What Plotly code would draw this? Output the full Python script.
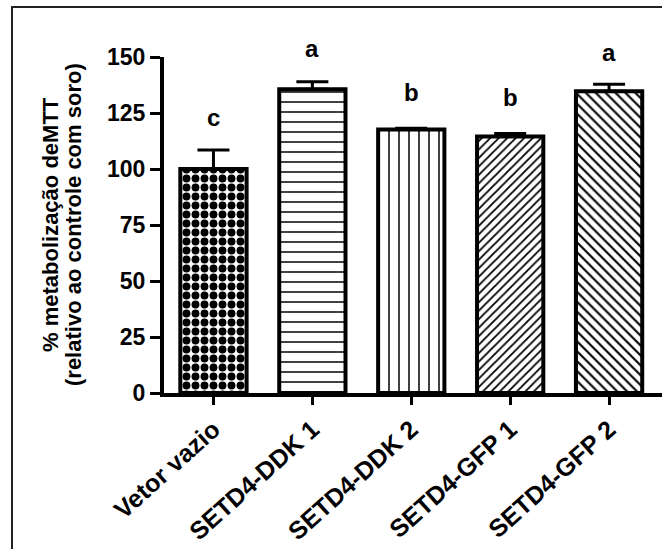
import plotly.graph_objects as go

categories = ["Vetor vazio", "SETD4-DDK 1", "SETD4-DDK 2", "SETD4-GFP 1", "SETD4-GFP 2"]
values = [100.0, 135.6, 117.6, 114.5, 134.7]
errors = [8.5, 3.3, 0.6, 1.3, 3.1]
letters = ["c", "a", "b", "b", "a"]
letter_y = [123, 154, 134, 132, 152]
y_ticks = [0, 25, 50, 75, 100, 125, 150]
y_range = [0, 150]
title_lines = ["% metabolização deMTT", "(relativo ao controle com soro)"]

patterns = [".", "-", "|", "/", "\\"]
pattern_sizes = [9, 10, 10, 6, 7]
pattern_solidity = [0.6, 0.15, 0.15, 0.3, 0.3]

FONT = "Liberation Sans, Arial, sans-serif"

fig = go.Figure()
fig.add_trace(go.Bar(
    x=list(range(len(categories))),
    y=values,
    marker=dict(
        color="white",
        line=dict(color="black", width=4),
        pattern=dict(shape=patterns, size=pattern_sizes, solidity=pattern_solidity,
                     fgcolor="black", bgcolor="white", fillmode="replace"),
    ),
    error_y=dict(type="data", array=errors, arrayminus=[0]*len(errors), symmetric=False,
                 color="black", thickness=3, width=16),
    width=0.67,
    showlegend=False,
))

# significance letters (y given in data units, converted to axis fraction so
# that letters above the axis range are still drawn)
for i, (t, yv) in enumerate(zip(letters, letter_y)):
    fig.add_annotation(x=i, xref="x", y=(yv - y_range[0]) / (y_range[1] - y_range[0]),
                       yref="y domain", text="<b>%s</b>" % t, showarrow=False,
                       font=dict(family=FONT, size=24, color="black"),
                       xanchor="center", yanchor="middle")

L, T, B = 164, 57, 156
W = 662 - L
H = 549 - T - B

def px_x(p):
    return (p - L) / W

def px_y(p):
    return (549 - B - p) / H

for xpos, line in zip([50, 73], title_lines):
    fig.add_annotation(
        x=px_x(xpos), y=0.5, xref="paper", yref="paper",
        text="<b>%s</b>" % line,
        textangle=-90, showarrow=False, xanchor="center", yanchor="middle",
        font=dict(family=FONT, size=22, color="black"),
    )

# outer frame (left and top lines)
fig.add_shape(type="line", xref="paper", yref="paper",
              x0=px_x(12), x1=px_x(12), y0=px_y(7), y1=px_y(560),
              line=dict(color="#222222", width=2))
fig.add_shape(type="line", xref="paper", yref="paper",
              x0=px_x(11), x1=px_x(680), y0=px_y(7), y1=px_y(7),
              line=dict(color="#222222", width=2))

fig.update_layout(
    width=662, height=549,
    margin=dict(l=L, r=0, t=T, b=B, pad=0, autoexpand=False),
    paper_bgcolor="white", plot_bgcolor="white",
    font=dict(family=FONT, color="black"),
)
fig.update_xaxes(
    range=[-0.5, 4.535], tickvals=list(range(len(categories))), ticktext=categories,
    showline=True, linecolor="black", linewidth=4, automargin=False,
    ticks="outside", ticklen=8, tickwidth=3, tickcolor="black",
    tickangle=-42, tickfont=dict(family=FONT, size=25, color="black", weight="bold"),
    showgrid=False, zeroline=False,
)
fig.update_yaxes(
    range=y_range, tickvals=y_ticks, showline=True, linecolor="black", linewidth=4,
    automargin=False,
    ticks="outside", ticklen=10, tickwidth=3, tickcolor="black",
    tickfont=dict(family=FONT, size=23, color="black", weight="bold"),
    showgrid=False, zeroline=False,
)

fig.write_html("out.html")
